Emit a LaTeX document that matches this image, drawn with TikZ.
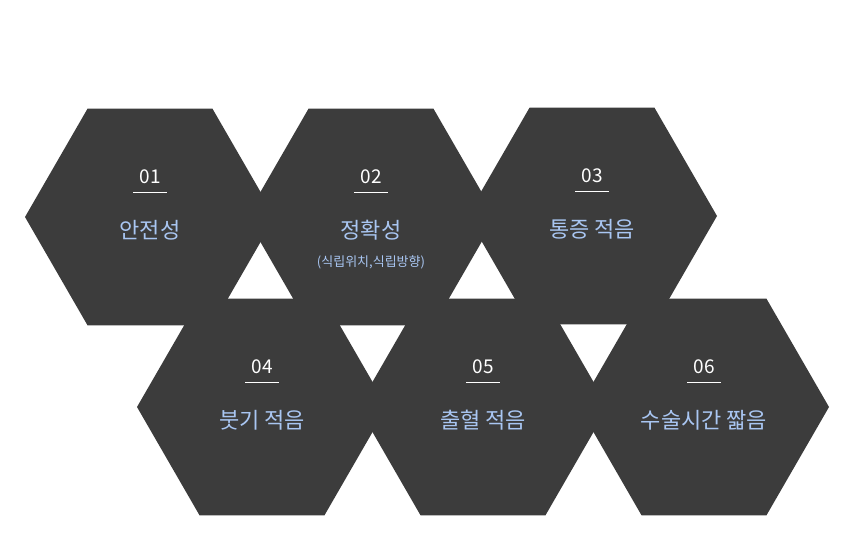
\documentclass[tikz,border=0pt]{standalone}
\usepackage{fontspec}
\newfontfamily\kr{Noto Sans CJK KR}
\usetikzlibrary{shapes.geometric}
\definecolor{hexc}{HTML}{3C3C3C}
\definecolor{lbl}{HTML}{A9C6F2}
\tikzset{
 hexa/.style={regular polygon, regular polygon sides=6, minimum size=250pt, inner sep=0pt, fill=hexc, draw=none},
 num/.style={text=white, font=\kr\fontsize{19}{20}\selectfont, inner sep=1pt},
 ttl/.style={text=lbl, font=\kr\fontsize{22}{24}\selectfont, inner sep=0pt},
 sub/.style={text=lbl, font=\kr\fontsize{13}{14}\selectfont, inner sep=0pt},
 uline/.style={white, line width=0.8pt}
}
\begin{document}
\begin{tikzpicture}[x=1pt,y=-1pt]
\useasboundingbox (0,0) rectangle (854,534);
\fill[white] (0,0) rectangle (854,534);
\foreach \n/\x/\y/\k/\t in {1/150/217/01/안전성,2/371/217/02/정확성,3/592/216/03/통증 적음,4/262/407/04/붓기 적음,5/483/407/05/출혈 적음,6/704/407/06/수술시간 짧음}{
  \node[hexa] (h\n) at (\x,\y) {};
  \node[num] (n\n) at (\x,\y-40) {\k};
  \draw[uline] (\x-17,\y-25) -- (\x+17,\y-25);
  \node[ttl] (t\n) at (\x,\y+13) {\t};
}
\node[sub] (s2) at (371,262) {(식립위치,식립방향)};
\end{tikzpicture}
\end{document}
